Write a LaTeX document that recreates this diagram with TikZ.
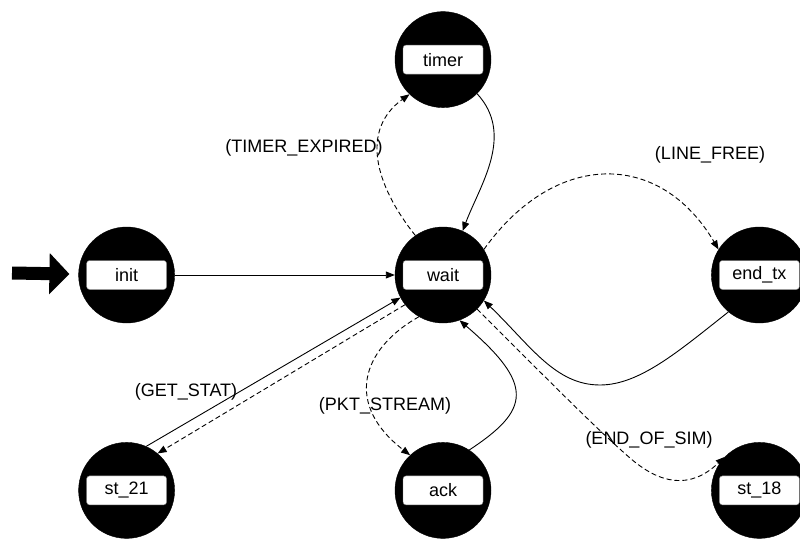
\documentclass[tikz,border=0pt]{standalone}
\usepackage{fontspec}
\setmainfont{Liberation Sans}
\usetikzlibrary{arrows.meta, positioning}

\begin{document}
\begin{tikzpicture}[
    x=1pt, y=-1pt,
    node distance=119pt and 220pt,
    state/.style={circle, draw=black, fill=black, minimum size=96pt, inner sep=0pt},
    statebox/.style={rectangle, rounded corners=3pt, draw=black!50, fill=white, minimum width=80pt, minimum height=29pt, inner sep=0pt, font=\fontsize{18}{20}\selectfont},
    trans/.style={-{Triangle[length=9pt,width=7pt]}, line width=0.9pt},
    cond/.style={trans, dash pattern=on 5pt off 3pt},
    guard/.style={font=\fontsize{18}{20}\selectfont, inner sep=0pt},
    entry/.style={-{Triangle[length=20pt,width=40pt]}, line width=13pt}
]
    \useasboundingbox (0,0) rectangle (800,540);

    % States
    \node[state, label={[statebox]center:wait}] (wait) at (443,275) {};
    \node[state, label={[statebox]center:timer}] (timer) [above=of wait] {};
    \node[state, label={[statebox]center:init}] (init) [left=of wait] {};
    \node[state, label={[statebox]center:end\_tx}] (endtx) [right=of wait] {};
    \node[state, label={[statebox]center:st\_21}] (st21) [below=of init] {};
    \node[state, label={[statebox]center:ack}] (ack) [below=of wait] {};
    \node[state, label={[statebox]center:st\_18}] (st18) [below=of endtx] {};

    % Initial arrow
    \coordinate (start) at (12,273);
    \draw[entry, shorten >=9pt] (start) -- (init);

    % Transitions
    \draw[trans] (init) -- (wait);
    \draw[cond] (wait.125) .. controls (375,185) and (360,130) .. (timer.226);
    \draw[trans] (timer.-45) .. controls (515,135) and (480,185) .. (wait.66);
    \draw[cond] (wait.32) .. controls (555,150) and (660,150) .. (endtx.148);
    \draw[trans] (endtx.230) .. controls (680,350) and (640,385) .. (600,385)
        .. controls (555,385) and (530,345) .. (wait.-32);
    \draw[cond] (wait.-45) .. controls (560,392) and (600,432) .. (630,458)
        .. controls (660,484) and (690,490) .. (st18.136);
    \draw[trans] (st21.66) -- (wait.208);
    \draw[cond] (wait.218) -- (st21.50);
    \draw[cond] (wait.240) .. controls (360,350) and (345,405) .. (ack.133);
    \draw[trans] (ack.57) .. controls (530,410) and (535,385) .. (wait.-70);

    % Guards
    \node[guard] (gtimer) at (304,148) {(TIMER\_EXPIRED)};
    \node[guard] (gline) at (710,155) {(LINE\_FREE)};
    \node[guard] (gstat) at (186,392) {(GET\_STAT)};
    \node[guard] (gpkt) at (385,406) {(PKT\_STREAM)};
    \node[guard] (gsim) at (649,440) {(END\_OF\_SIM)};
\end{tikzpicture}
\end{document}
